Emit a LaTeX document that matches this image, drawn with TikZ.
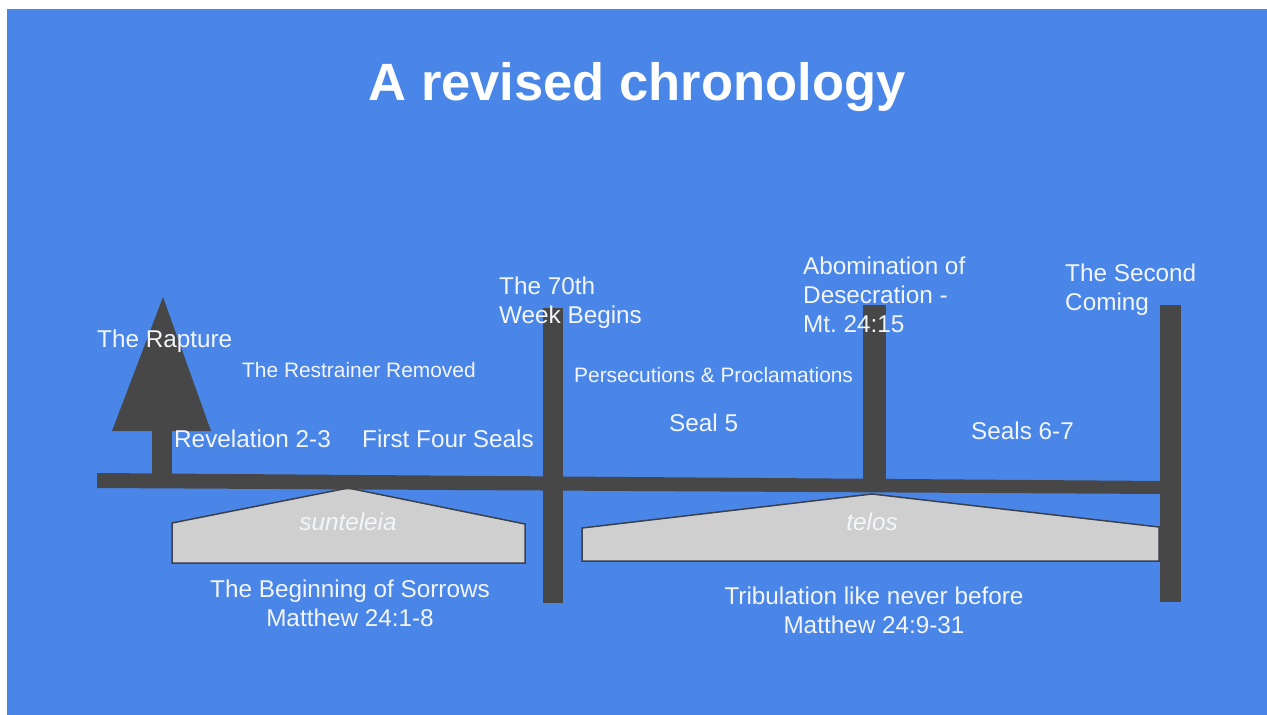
\documentclass[tikz,border=0pt]{standalone}
\usepackage{fontspec}
\setmainfont{Liberation Sans}
\frenchspacing
\definecolor{bg}{HTML}{4A86E8}
\definecolor{bar}{HTML}{474747}
\definecolor{pent}{HTML}{CFCFCF}
\definecolor{pentline}{HTML}{3A404C}
\definecolor{txt}{HTML}{F2F5FA}
\tikzset{
  lbl/.style={inner sep=0pt, anchor=base west, text=txt, font=\fontsize{24.3}{29}\selectfont, align=left},
  lblc/.style={inner sep=0pt, anchor=base, text=txt, font=\fontsize{24.3}{29}\selectfont, align=center},
  small/.style={inner sep=0pt, anchor=base west, text=txt, font=\fontsize{20.9}{25}\selectfont},
  pentshape/.style={fill=pent, draw=pentline, line width=1.5pt, line join=miter},
  ital/.style={inner sep=0pt, anchor=base, text=txt, font=\fontsize{24.3}{29}\selectfont\itshape}
}
\begin{document}
\begin{tikzpicture}[x=1pt,y=-1pt]
\useasboundingbox (0,0) rectangle (1267,715);
\fill[white] (0,0) rectangle (1267,715);
\fill[bg] (7,9) rectangle (1267,715);

% title
\node[inner sep=0pt, anchor=base, text=white, font=\fontsize{52.5}{60}\selectfont\bfseries] (title) at (637,100) {A revised chronology};

% pentagons
\draw[pentshape] (172,563) -- (172,523) -- (348,488) -- (525,524) -- (525,563) -- cycle;
\draw[pentshape] (582,561) -- (582,528) -- (872,494) -- (1159,527) -- (1159,561) -- cycle;

% tree
\fill[bar] (163,297) -- (112,431) -- (211,431) -- cycle;
\fill[bar] (152,430) rectangle (172,475);

% horizontal timeline
\fill[bar] (97,473) -- (1165,481) -- (1165,494) -- (97,488) -- cycle;

% vertical bars
\fill[bar] (543,308) rectangle (563,603);
\fill[bar] (863,305) rectangle (886,486);
\fill[bar] (1160,305) rectangle (1181,602);

% labels
\node[lbl] (rapture) at (97,347) {The Rapture};
\node[small] (restrainer) at (242,377) {The Restrainer Removed};
\node[lbl] (rev) at (174,447) {Revelation 2-3};
\node[lbl] (seals4) at (362,447) {First Four Seals};
\node[lbl] (week) at (499,323) {The 70th\\Week Begins};
\node[small] (persec) at (574,382) {Persecutions \& Proclamations};
\node[lbl] (seal5) at (669,431) {Seal 5};
\node[lbl] (abom) at (803,332) {Abomination of\\Desecration -\\Mt. 24:15};
\node[lbl] (seals67) at (971,439) {Seals 6-7};
\node[lbl] (second) at (1065,310) {The Second\\Coming};

\node[ital] (sunt) at (348,530) {sunteleia};
\node[ital] (telos) at (872,530) {telos};

\node[lblc] (sorrows) at (350,626) {The Beginning of Sorrows\\Matthew 24:1-8};
\node[lblc] (trib) at (874,633) {Tribulation like never before\\Matthew 24:9-31};
\end{tikzpicture}
\end{document}
